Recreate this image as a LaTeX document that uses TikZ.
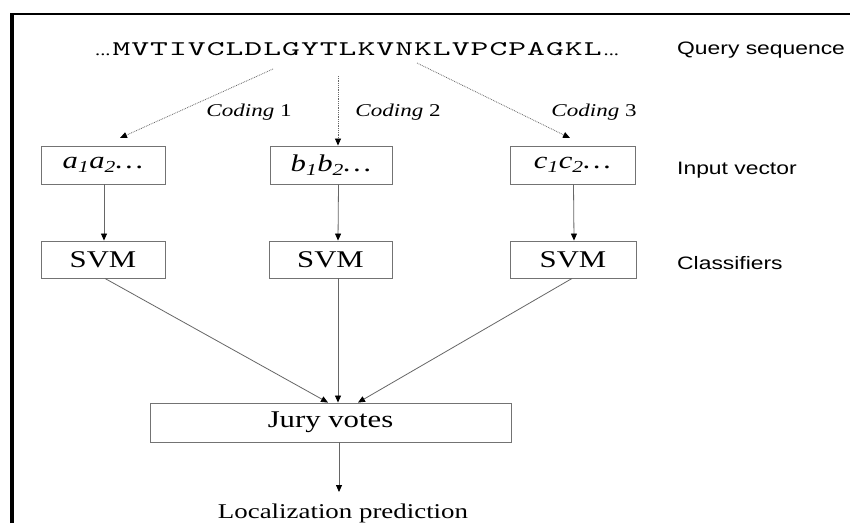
\documentclass[tikz,border=0pt]{standalone}
\usepackage{fontspec}
\usepackage{graphicx}
\usetikzlibrary{arrows.meta}
\setmainfont{Liberation Serif}[FakeStretch=1.28]
\newfontfamily\serifS{Liberation Serif}[FakeStretch=1.28]
\newfontfamily\sansS{Liberation Sans}[FakeStretch=1.27]
\newfontfamily\monoS{Latin Modern Mono}[LetterSpace=3]
\tikzset{
  box/.style={draw=black!55, line width=0.9pt, inner sep=0pt,
    font=\serifS\fontsize{24}{28}\selectfont},
  tipk/.style={-{Triangle[length=7pt,width=6pt,color=black]}},
  conn/.style={draw=black!60, line width=0.8pt, tipk},
  dconn/.style={draw=black!60, line width=0.8pt, densely dotted, tipk},
  lbl/.style={font=\sansS\fontsize{18}{20}\selectfont, anchor=base west, inner sep=0pt},
  cod/.style={font=\serifS\fontsize{18}{20}\selectfont, inner sep=0pt}
}
\begin{document}
\begin{tikzpicture}[x=1pt,y=-1pt]
\useasboundingbox (0,0) rectangle (850,523);
\fill[white] (0,0) rectangle (850,523);
% frame
\draw[line width=3.5pt] (12,523) -- (12,14);
\draw[line width=2.6pt] (10.25,14) -- (850,14);

% sequence
\node[anchor=base west, inner sep=0pt] (seq) at (95,55)
  {{\serifS\fontsize{16}{18}\selectfont...}\hspace{2pt}\resizebox{489pt}{13pt}{\monoS MVTIVCLDLGYTLKVNKLVPCPAGKL}\hspace{2pt}{\serifS\fontsize{16}{18}\selectfont...}};
\node[lbl] (qs) at (677,54) {Query sequence};

% coding labels
\node[cod] (c1) at (249,112) {\textit{Coding} 1};
\node[cod] (c2) at (398,112) {\textit{Coding} 2};
\node[cod] (c3) at (594,112) {\textit{Coding} 3};

% input vectors
\node[box, minimum width=124pt, minimum height=38pt] (a) at (103,165) {\itshape a\textsubscript{1}a\textsubscript{2}\ldots};
\node[box, minimum width=122pt, minimum height=38pt] (b) at (331,165) {\itshape b\textsubscript{1}b\textsubscript{2}\ldots};
\node[box, minimum width=125pt, minimum height=38pt] (c) at (572.5,165) {\itshape c\textsubscript{1}c\textsubscript{2}\ldots};
\node[lbl] (iv) at (677,174) {Input vector};

% SVMs
\node[box, minimum width=124pt, minimum height=37pt] (sa) at (103,259.5) {SVM};
\node[box, minimum width=123pt, minimum height=37pt] (sb) at (330.5,259.5) {SVM};
\node[box, minimum width=126pt, minimum height=37pt] (sc) at (573,259.5) {SVM};
\node[lbl] (cl) at (677,269) {Classifiers};

% jury
\node[box, minimum width=361pt, minimum height=39pt] (jury) at (330.5,422.5) {Jury votes};
\node[font=\serifS\fontsize{21}{24}\selectfont, anchor=base, inner sep=0pt] (loc) at (343,518.5) {Localization prediction};

% coding arrows
\coordinate (s1) at (273,69);
\coordinate (s2) at (338,76);
\coordinate (s3) at (417,63);
\coordinate (t1) at (120,138);
\coordinate (t3) at (570,138);
\draw[dconn] (s1) -- (t1);
\draw[dconn] (s2) -- ([xshift=7pt]b.north);
\draw[dconn] (s3) -- (t3);

% input -> SVM
\draw[conn] ([xshift=1pt]a.south) -- ([xshift=1pt]sa.north);
\draw[conn] ([xshift=7.5pt]b.south) -- ([xshift=7.5pt]sb.north);
\draw[conn] ([xshift=1pt]c.south) -- ([xshift=1pt]sc.north);

% SVM -> jury
\draw[conn] ([xshift=2pt]sa.south) -- ([xshift=-2.5pt]jury.north);
\draw[conn] ([xshift=7.5pt]sb.south) -- ([xshift=7.5pt]jury.north);
\draw[conn] ([xshift=-1pt]sc.south) -- ([xshift=27.5pt]jury.north);

% jury -> prediction
\coordinate (tl) at (339,492);
\draw[conn] ([xshift=8.5pt]jury.south) -- (tl);
\end{tikzpicture}
\end{document}
